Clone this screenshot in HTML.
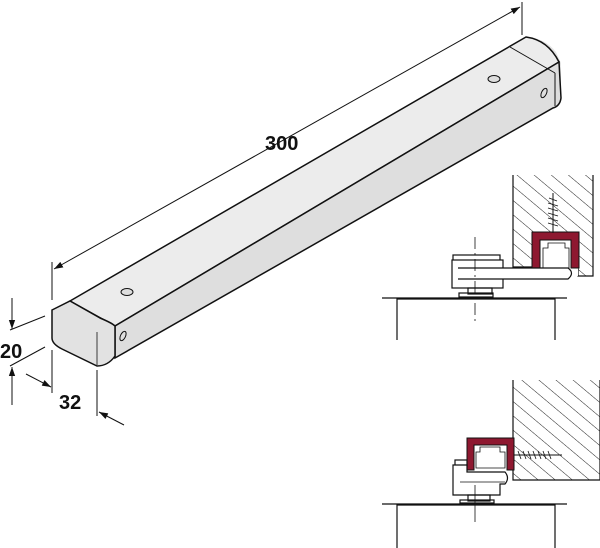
<!DOCTYPE html>
<html><head><meta charset="utf-8"><style>body{margin:0;background:#fff}svg{display:block}</style></head><body>
<svg width="600" height="548" viewBox="0 0 600 548" xmlns="http://www.w3.org/2000/svg" font-family="Liberation Sans, sans-serif">
<defs>
<pattern id="h" width="11" height="11" patternUnits="userSpaceOnUse" patternTransform="rotate(-50)"><line x1="0" y1="0" x2="0" y2="11" stroke="#222" stroke-width="1"/></pattern>
<marker id="a" viewBox="0 0 10 10" refX="10" refY="5" markerWidth="9" markerHeight="9" orient="auto-start-reverse"><path d="M0,1.5 L10,5 L0,8.5 Z" fill="#111"/></marker>
</defs>
<g stroke="#111" fill="none" stroke-width="1">
<line x1="52" y1="300" x2="52" y2="262"/>
<line x1="522" y1="35" x2="522" y2="2"/>
<line x1="54" y1="269" x2="520" y2="7" marker-start="url(#a)" marker-end="url(#a)"/>
<path d="M70,301 L526,37 Q545,38 556,52 L561,63 L561,98 Q560,106 553,108 L115,358 L115,326 Z" fill="#e4e4e4" stroke="none"/>
<path d="M70,301 L526,37 Q548,40 559,62 L115,326 Z" fill="#ececec" stroke-width="1.5"/>
<path d="M115,326 L559,62 L561,98 Q560,106 553,108 L115,358 Z" fill="#dedede" stroke-width="1.5"/>
<line x1="510" y1="47" x2="555" y2="73"/>
<line x1="555" y1="73" x2="555" y2="106"/>
<path d="M52,310 L70,301 L100,318 Q112,323 115,326 L115,356 Q108,366 97,366 L62,349 Q52,344 52,338 Z" fill="#e2e2e2" stroke-width="1.5"/>
<line x1="97" y1="332" x2="97" y2="365" stroke-width="0.8"/>
<ellipse cx="127" cy="292" rx="6" ry="3.5" fill="#ddd"/>
<ellipse cx="494" cy="79" rx="6" ry="3.5" fill="#ddd"/>
<ellipse cx="123" cy="336" rx="2.5" ry="5" transform="rotate(25 123 336)"/>
<ellipse cx="544" cy="93" rx="2.5" ry="5" transform="rotate(25 544 93)"/>
<line x1="10" y1="330" x2="45" y2="316"/>
<line x1="10" y1="366" x2="45" y2="347"/>
<line x1="12" y1="298" x2="12" y2="329" marker-end="url(#a)"/>
<line x1="12" y1="405" x2="12" y2="367" marker-end="url(#a)"/>
<line x1="52" y1="350" x2="52" y2="393"/>
<line x1="97" y1="370" x2="97" y2="416"/>
<line x1="26" y1="374" x2="51" y2="387" marker-end="url(#a)"/>
<line x1="124" y1="425" x2="99" y2="412" marker-end="url(#a)"/>
</g>
<g font-weight="bold" fill="#111" font-size="20">
<text x="265" y="150">300</text>
<text x="0" y="358">20</text>
<text x="59" y="409">32</text>
</g>
<g stroke="#111" fill="none" stroke-width="1.2">
<path d="M513,175 L513,267 L533,267 L533,233 L578,233 L578,276 L593,276 L593,175" fill="url(#h)"/>
<path d="M533,267 L533,233 L578,233 L578,276" fill="#fff" stroke="none"/>
<path d="M532,268 L532,232 L579,232 L579,268 L571,268 L571,240 L540,240 L540,268 Z" fill="#8e1830" stroke-width="1"/>
<path d="M543,268 L543,248 L548,248 L548,243 L565,243 L565,248 L569,248 L569,268 Z" stroke-width="0.8"/>
<line x1="553" y1="193" x2="553" y2="233" stroke-width="1"/>
<path d="M549,198 l8,3 M548,203 l10,3 M548,208 l10,3 M548,213 l10,3 M548,218 l10,3 M548,223 l10,3" stroke-width="0.8"/>
<rect x="453" y="255" width="47" height="7"/>
<rect x="452" y="260" width="51" height="28" fill="#fff"/>
<path d="M458,268 L568,268 Q575,273 568,279 L458,279" fill="#fff"/>
<rect x="468" y="288" width="24" height="6"/>
<rect x="459" y="293" width="34" height="4"/>
<line x1="382" y1="298" x2="567" y2="298"/>
<path d="M397,340 L397,299 L555,299 L555,340"/>
<line x1="475" y1="237" x2="475" y2="322" stroke-dasharray="12,4,2,4" stroke-width="0.8"/>
</g>
<g stroke="#111" fill="none" stroke-width="1.2">
<path d="M513,380 L513,480 L600,480 L600,380" fill="url(#h)"/>
<path d="M467,470 L467,438 L514,438 L514,470 L507,470 L507,445 L474,445 L474,470 Z" fill="#8e1830" stroke-width="1"/>
<path d="M476,468 L476,452 L480,452 L480,447 L500,447 L500,452 L505,452 L505,468 Z" stroke-width="0.8"/>
<line x1="514" y1="455" x2="562" y2="455" stroke-width="1"/>
<path d="M518,451 l3,8 M523,451 l3,8 M528,451 l3,8 M533,451 l3,8 M538,451 l3,8 M543,451 l3,8 M548,451 l3,8" stroke-width="0.8"/>
<rect x="455" y="460" width="12" height="6"/>
<path d="M453,465 L467,465 L467,472 L505,472 Q510,478 505,484 L500,484 L500,495 L453,495 Z" fill="#fff"/>
<path d="M460,482 L505,482" stroke-width="0.8"/>
<rect x="468" y="495" width="22" height="6"/>
<rect x="460" y="500" width="34" height="3"/>
<line x1="382" y1="504" x2="567" y2="504"/>
<path d="M397,548 L397,505 L555,505 L555,548"/>
<line x1="475" y1="485" x2="475" y2="522" stroke-width="0.8"/>
</g>
</svg>
</body></html>
